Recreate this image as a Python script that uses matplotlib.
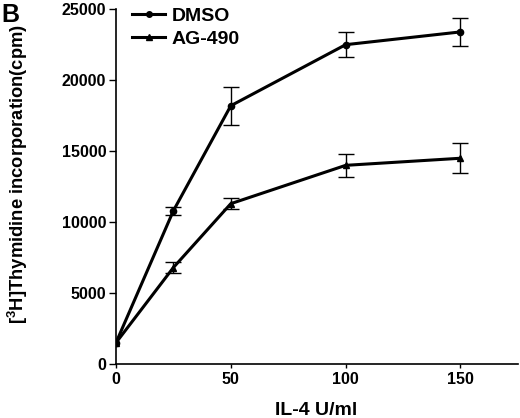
import matplotlib
matplotlib.use("Agg")
import matplotlib.pyplot as plt
from matplotlib.lines import Line2D

plt.rcParams['font.family'] = ['Liberation Sans', 'DejaVu Sans']
plt.rcParams['font.weight'] = 'bold'
plt.rcParams['mathtext.fontset'] = 'custom'
plt.rcParams['mathtext.bf'] = 'Liberation Sans:bold'
plt.rcParams['mathtext.rm'] = 'Liberation Sans:bold'

doses = [0, 25, 50, 100, 150]
dmso = [1500, 10800, 18200, 22500, 23400]
dmso_err = [0, 300, 1350, 900, 1000]
ag490 = [1500, 6800, 11300, 14000, 14500]
ag490_err = [0, 400, 400, 800, 1050]
xticks = [0, 50, 100, 150]
yticks = [0, 5000, 10000, 15000, 20000, 25000]

fig = plt.figure(figsize=(5.2, 4.18), dpi=100)
ax = fig.add_axes([0.223, 0.129, 0.773, 0.849])

for vals, errs, mk, ms in [(dmso, dmso_err, 'o', 4.5), (ag490, ag490_err, '^', 5)]:
    ax.plot(doses, vals, color='black', lw=2.2, marker=mk, ms=ms, zorder=3)
    ax.errorbar(doses[1:], vals[1:], yerr=errs[1:], fmt='none', ecolor='black',
                capsize=5.5, elinewidth=1.0, capthick=1.0, zorder=2)

ax.set_xlim(0, 175)
ax.set_ylim(0, 25000)
ax.set_xticks(xticks)
ax.set_yticks(yticks)
for s in ['top', 'right']:
    ax.spines[s].set_visible(False)
for s in ['left', 'bottom']:
    ax.spines[s].set_linewidth(1.2)
ax.tick_params(axis='y', length=5, width=1.0, labelsize=11.5, pad=2)
ax.tick_params(axis='x', length=3, width=1.0, labelsize=11.5, pad=3)
for lbl in ax.get_xticklabels() + ax.get_yticklabels():
    lbl.set_fontweight('bold')

ax.set_xlabel('IL-4 U/ml', fontsize=14, fontweight='bold', va='center')
ax.xaxis.set_label_coords(0.498, -0.13)
ax.set_ylabel('[$\\mathbf{^3}$H]Thymidine incorporation(cpm)', fontsize=13.2, fontweight='bold')
ax.yaxis.set_label_coords(-0.215, 0.535)

handles = [Line2D([], [], color='black', lw=2.2, marker='o', ms=4),
           Line2D([], [], color='black', lw=2.2, marker='^', ms=4.5)]
leg = fig.legend(handles, ['DMSO', 'AG-490'], loc='upper left',
                 bbox_to_anchor=(132 / 520, 1 - 7 / 418), frameon=False,
                 fontsize=14, handlelength=1.7, handletextpad=0.35, borderaxespad=0,
                 borderpad=0, labelspacing=0.3)
for t in leg.get_texts():
    t.set_fontweight('bold')

fig.text(0.003, 0.992, 'B', fontsize=18, fontweight='bold', va='top', ha='left')

fig.savefig('out.png', dpi=100)
